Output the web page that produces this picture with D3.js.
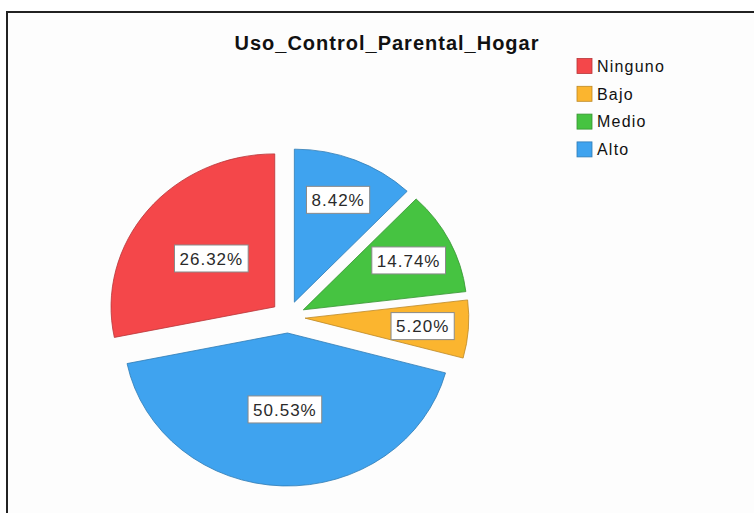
<!DOCTYPE html>
<html>
<head>
<meta charset="utf-8">
<script src="https://cdn.jsdelivr.net/npm/d3@7"></script>
<style>
  body { margin: 0; background: #fff; }
  svg { display: block; }
</style>
</head>
<body>
<script>
// slice order (clockwise from 12 o'clock), as drawn
var categories = ["Alto", "Medio", "Bajo", "Alto", "Ninguno"];
// slice sizes (%)
var shares = [12.1, 11.0, 6.1, 42.6, 28.2];
// printed labels
var labels = ["8.42%", "14.74%", "5.20%", "50.53%", "26.32%"];
var legendItems = ["Ninguno", "Bajo", "Medio", "Alto"];

var W = 754, H = 513;
var cx = 288, cy = 317, R = 153, sx = 1.07, explode = 16;

var color = d3.scaleOrdinal()
  .domain(legendItems)
  .range(["#f4474a", "#fbb52f", "#46c341", "#3fa3ef"]);

var svg = d3.select('body').append('svg')
  .attr('width', W)
  .attr('height', H);

// frame
svg.append('rect')
  .attr('x', 7).attr('y', 12)
  .attr('width', W + 20).attr('height', H + 20)
  .attr('fill', '#fdfdfd')
  .attr('stroke', '#222')
  .attr('stroke-width', 2);

svg.append('text')
  .attr('x', 387).attr('y', 50)
  .attr('text-anchor', 'middle')
  .style('font-family', 'Liberation Sans, Arial, sans-serif')
  .style('font-weight', 'bold')
  .style('font-size', '20px')
  .style('letter-spacing', '1px')
  .attr('fill', '#111')
  .text('Uso_Control_Parental_Hogar');

var data = categories.map(function(c, i) {
  return { cat: c, share: shares[i], label: labels[i] };
});

var pie = d3.pie().sort(null).value(function(d) { return d.share; });
var arc = d3.arc().innerRadius(0).outerRadius(R);
var arcs = pie(data);

var mid = function(d) { return (d.startAngle + d.endAngle) / 2; };

var g = svg.append('g')
  .attr('transform', 'translate(' + cx + ',' + cy + ') scale(' + sx + ',1)');

g.selectAll('path').data(arcs).enter().append('path')
  .attr('transform', function(d) {
    var m = mid(d);
    return 'translate(' + (Math.sin(m) * explode) + ',' + (-Math.cos(m) * explode) + ')';
  })
  .attr('d', arc)
  .attr('fill', function(d) { return color(d.data.cat); })
  .attr('stroke', function(d) { return d3.color(color(d.data.cat)).darker(0.8); })
  .attr('stroke-width', 0.8)
  .attr('vector-effect', 'non-scaling-stroke');

// value labels
var lab = svg.append('g').selectAll('g').data(arcs).enter().append('g')
  .attr('transform', function(d) {
    var m = mid(d);
    var f = (d.endAngle - d.startAngle) < 1 ? 0.72 : 0.5;
    var r = explode + f * R;
    return 'translate(' + (cx + sx * Math.sin(m) * r) + ',' + (cy - Math.cos(m) * r) + ')';
  });

var txt = lab.append('text')
  .attr('text-anchor', 'middle')
  .attr('dy', '0.36em')
  .style('font-family', 'Liberation Sans, Arial, sans-serif')
  .style('font-size', '17px')
  .style('letter-spacing', '1px')
  .attr('fill', '#2a2a2a')
  .text(function(d) { return d.data.label; });

txt.each(function() {
  var b = this.getBBox();
  d3.select(this.parentNode).insert('rect', 'text')
    .attr('x', -b.width / 2 - 5)
    .attr('y', -13.5)
    .attr('width', b.width + 10)
    .attr('height', 27)
    .attr('fill', '#fff')
    .attr('stroke', '#8a8a8a')
    .attr('stroke-width', 1);
});

// legend
var leg = svg.append('g').selectAll('g').data(legendItems).enter().append('g')
  .attr('transform', function(d, i) { return 'translate(577,' + (66 + i * 27.8) + ')'; });

leg.append('rect')
  .attr('x', 0).attr('y', -7.5)
  .attr('width', 15).attr('height', 15)
  .attr('fill', function(d) { return color(d); })
  .attr('stroke', function(d) { return d3.color(color(d)).darker(0.8); })
  .attr('stroke-width', 0.8);

leg.append('text')
  .attr('x', 20).attr('dy', '0.36em')
  .style('font-family', 'Liberation Sans, Arial, sans-serif')
  .style('font-size', '16px')
  .style('letter-spacing', '1.2px')
  .attr('fill', '#111')
  .text(function(d) { return d; });
</script>
</body>
</html>
